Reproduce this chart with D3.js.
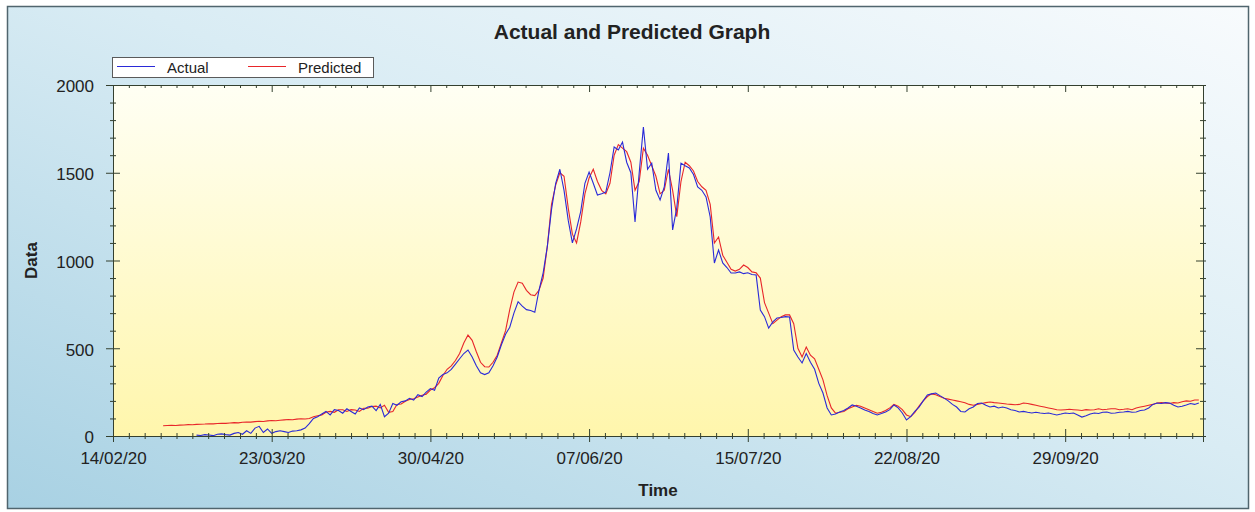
<!DOCTYPE html>
<html>
<head>
<meta charset="utf-8">
<script src="https://cdn.jsdelivr.net/npm/d3@7"></script>
<style>
  body { margin: 0; background: #fff; }
  svg text { font-family: Arial, "Liberation Sans", sans-serif; fill: #222; }
</style>
</head>
<body>
<svg id="svg1" width="1255" height="512"></svg>
<script>
// ---- data ----
var xTickLabels = ["14/02/20", "23/03/20", "30/04/20", "07/06/20", "15/07/20", "22/08/20", "29/09/20"];
var yTicks = [0, 500, 1000, 1500, 2000];
var seriesNames = ["Actual", "Predicted"];

var actualStart = "05/03/20";      // one value per day
var actual = [
  5,3,8,6,2,10,12,8,5,15,
  20,10,30,15,45,55,20,40,15,25,
  30,25,20,28,30,35,45,70,100,110,
  125,140,120,150,145,130,155,140,125,160,
  150,165,170,145,180,110,130,185,175,195,
  200,215,205,235,225,250,270,260,330,350,
  360,380,410,440,470,490,450,400,360,350,
  360,400,450,520,580,620,700,765,740,720,
  715,705,830,930,1080,1290,1440,1520,1400,1230,
  1100,1180,1280,1440,1504,1440,1373,1380,1390,1500,
  1647,1630,1675,1560,1500,1220,1500,1760,1520,1555,
  1400,1345,1419,1612,1174,1300,1555,1540,1527,1490,
  1419,1400,1362,1248,986,1060,986,960,929,929,
  935,925,930,920,917,718,680,615,650,672,
  675,680,678,490,450,416,470,420,380,300,
  245,160,120,125,137,145,160,177,170,160,
  148,140,128,120,128,137,150,177,160,131,
  91,110,140,165,200,234,240,245,230,216,
  200,180,165,140,137,155,165,185,188,175,
  165,170,160,165,160,150,145,137,140,135,
  131,135,131,128,131,125,120,125,131,128,
  131,120,108,115,125,131,128,135,137,130,
  131,135,137,140,135,137,145,148,160,180,
  188,185,190,188,175,165,170,177,185,180,188
];

var predictedStart = "26/02/20";   // one value per day
var predicted = [
  58,60,61,60,62,63,65,64,66,67,
  68,70,69,71,73,72,74,76,75,78,
  80,79,82,84,83,86,88,87,90,92,
  94,93,96,98,97,100,110,115,
  120,135,140,135,150,150,140,150,148,140,
  158,158,168,170,160,175,135,140,180,182,
  198,208,212,222,232,238,262,275,300,345,
  380,400,430,470,530,575,545,480,420,395,
  393,420,460,530,600,720,820,877,870,830,
  805,800,830,900,1080,1320,1430,1500,1480,1300,
  1150,1100,1220,1380,1470,1520,1450,1400,1380,1440,
  1600,1660,1640,1620,1560,1400,1450,1640,1600,1540,
  1480,1380,1400,1520,1400,1250,1450,1560,1540,1510,
  1450,1420,1400,1320,1100,1134,1030,990,950,940,
  950,974,960,935,930,900,760,700,640,660,
  680,690,690,640,500,450,507,460,440,380,
  320,230,160,130,135,140,155,165,175,170,
  160,150,140,130,135,145,160,180,170,150,
  120,110,135,170,200,225,240,235,225,215,
  210,205,200,195,190,180,175,180,185,190,
  194,190,188,185,182,180,178,180,188,185,
  180,175,170,165,160,155,150,148,150,152,
  150,148,145,150,148,150,155,150,152,155,
  155,150,152,155,150,160,165,170,175,180,
  188,190,188,185,190,188,195,200,198,205,205
];

// ---- layout ----
var parse = d3.timeParse("%d/%m/%y");
var svg = d3.select("#svg1"),
    margin = {top: 85, right: 52, bottom: 76, left: 113},
    width = +svg.attr("width") - margin.left - margin.right,
    height = +svg.attr("height") - margin.top - margin.bottom;

var defs = svg.append("defs");
var bg = defs.append("linearGradient").attr("id", "bgGrad")
    .attr("x1", 0).attr("y1", 1).attr("x2", 1).attr("y2", 0);
bg.append("stop").attr("offset", "0%").attr("stop-color", "#a8d1e3");
bg.append("stop").attr("offset", "55%").attr("stop-color", "#d9ecf4");
bg.append("stop").attr("offset", "100%").attr("stop-color", "#f8fbfd");
var pg = defs.append("linearGradient").attr("id", "plotGrad")
    .attr("x1", 0).attr("y1", 0).attr("x2", 0).attr("y2", 1);
pg.append("stop").attr("offset", "0%").attr("stop-color", "#fffff4");
pg.append("stop").attr("offset", "100%").attr("stop-color", "#fff6ac");

svg.append("rect").attr("x", 7.5).attr("y", 6.5).attr("width", 1241).attr("height", 502)
    .attr("fill", "url(#bgGrad)").attr("stroke", "#50656e").attr("stroke-width", 1.5);

var g = svg.append("g").attr("transform", "translate(" + margin.left + "," + margin.top + ")");

var x = d3.scaleTime()
    .domain([parse(xTickLabels[0]), parse("01/11/20")])
    .range([0, width]);
var y = d3.scaleLinear().domain([0, 2000]).range([height, 0]);

g.append("rect").attr("width", width).attr("height", height).attr("fill", "url(#plotGrad)");

// ---- series ----
function toPoints(start, vals) {
  var s = parse(start);
  return vals.map(function(v, i) { return {date: d3.timeDay.offset(s, i), value: v}; });
}
var line = d3.line()
    .x(function(d) { return x(d.date); })
    .y(function(d) { return y(d.value); });

g.append("path").datum(toPoints(predictedStart, predicted))
    .attr("fill", "none").attr("stroke", "#e8262a").attr("stroke-width", 1.1)
    .attr("d", line);
g.append("path").datum(toPoints(actualStart, actual))
    .attr("fill", "none").attr("stroke", "#2a2ad8").attr("stroke-width", 1.1)
    .attr("d", line);

// ---- axes ----
var majorDates = xTickLabels.map(parse);
var minorDates = [];
var end = x.domain()[1];
for (var i = 0; ; i++) {
  var t = d3.timeHour.offset(majorDates[0], Math.round(i * 91.2));
  if (t > end) break;
  if (i % 10 !== 0) minorDates.push(t);
}
var yMinor = d3.range(0, 2001, 100).filter(function(v) { return v % 500 !== 0; });
var axisColor = "#34402f";

function styleAxis(sel) {
  sel.select(".domain").attr("stroke", axisColor);
  sel.selectAll(".tick line").attr("stroke", axisColor);
  sel.selectAll(".tick text").style("font-size", "17px").attr("fill", "#222");
  return sel;
}

// bottom
g.append("g").attr("transform", "translate(0," + height + ")")
    .call(d3.axisBottom(x).tickValues(minorDates).tickSize(3).tickFormat("")).call(styleAxis);
g.append("g").attr("transform", "translate(0," + height + ")")
    .call(d3.axisTop(x).tickValues(minorDates).tickSize(3).tickFormat("")).call(styleAxis);
g.append("g").attr("transform", "translate(0," + height + ")")
    .call(d3.axisTop(x).tickValues(majorDates).tickSize(7).tickFormat("")).call(styleAxis);
g.append("g").attr("transform", "translate(0," + height + ")")
    .call(d3.axisBottom(x).tickValues(majorDates).tickSize(6).tickPadding(10)
      .tickFormat(function(d, i) { return xTickLabels[i]; }))
    .call(styleAxis);

// top
g.append("g").call(d3.axisBottom(x).tickValues(minorDates).tickSize(3).tickFormat("")).call(styleAxis);
g.append("g").call(d3.axisBottom(x).tickValues(majorDates).tickSize(7).tickFormat("")).call(styleAxis);

// left
g.append("g").call(d3.axisRight(y).tickValues(yMinor).tickSize(3).tickFormat("")).call(styleAxis);
g.append("g").call(d3.axisLeft(y).tickValues(yMinor).tickSize(3).tickFormat("")).call(styleAxis);
g.append("g").call(d3.axisRight(y).tickValues(yTicks).tickSize(7).tickFormat("")).call(styleAxis);
g.append("g").call(d3.axisLeft(y).tickValues(yTicks).tickSize(7).tickPadding(12).tickFormat(d3.format("d")))
    .call(styleAxis)
    .selectAll(".tick text").attr("dy", "0.4em");

// right
g.append("g").attr("transform", "translate(" + width + ",0)")
    .call(d3.axisLeft(y).tickValues(yMinor).tickSize(3).tickFormat("")).call(styleAxis);
g.append("g").attr("transform", "translate(" + width + ",0)")
    .call(d3.axisRight(y).tickValues(yMinor.concat(yTicks)).tickSize(3).tickFormat("")).call(styleAxis);
g.append("g").attr("transform", "translate(" + width + ",0)")
    .call(d3.axisLeft(y).tickValues(yTicks).tickSize(7).tickFormat("")).call(styleAxis);

// ---- labels ----
svg.append("text").attr("x", 632).attr("y", 39).attr("text-anchor", "middle")
    .style("font-size", "21px").style("font-weight", "bold").text("Actual and Predicted Graph");
svg.append("text").attr("x", 658).attr("y", 496).attr("text-anchor", "middle")
    .style("font-size", "17px").style("font-weight", "bold").text("Time");
svg.append("text").attr("transform", "translate(37," + (margin.top + height / 2) + ") rotate(-90)")
    .attr("text-anchor", "middle")
    .style("font-size", "17px").style("font-weight", "bold").text("Data");

// ---- legend ----
var legend = svg.append("g").attr("transform", "translate(112,57)");
legend.append("rect").attr("x", 0.5).attr("y", 0.5).attr("width", 261).attr("height", 20)
    .attr("fill", "#fff").attr("stroke", "#5a5a5a");
var legendColors = ["#2a2ad8", "#e8262a"];
seriesNames.forEach(function(name, i) {
  var lx = 5 + i * 131;
  legend.append("line").attr("x1", lx).attr("x2", lx + 38).attr("y1", 9.5).attr("y2", 9.5)
      .attr("stroke", legendColors[i]).attr("stroke-width", 1);
  legend.append("text").attr("x", lx + 50).attr("y", 15.5)
      .style("font-size", "15px").attr("fill", "#333").text(name);
});
</script>
</body>
</html>
